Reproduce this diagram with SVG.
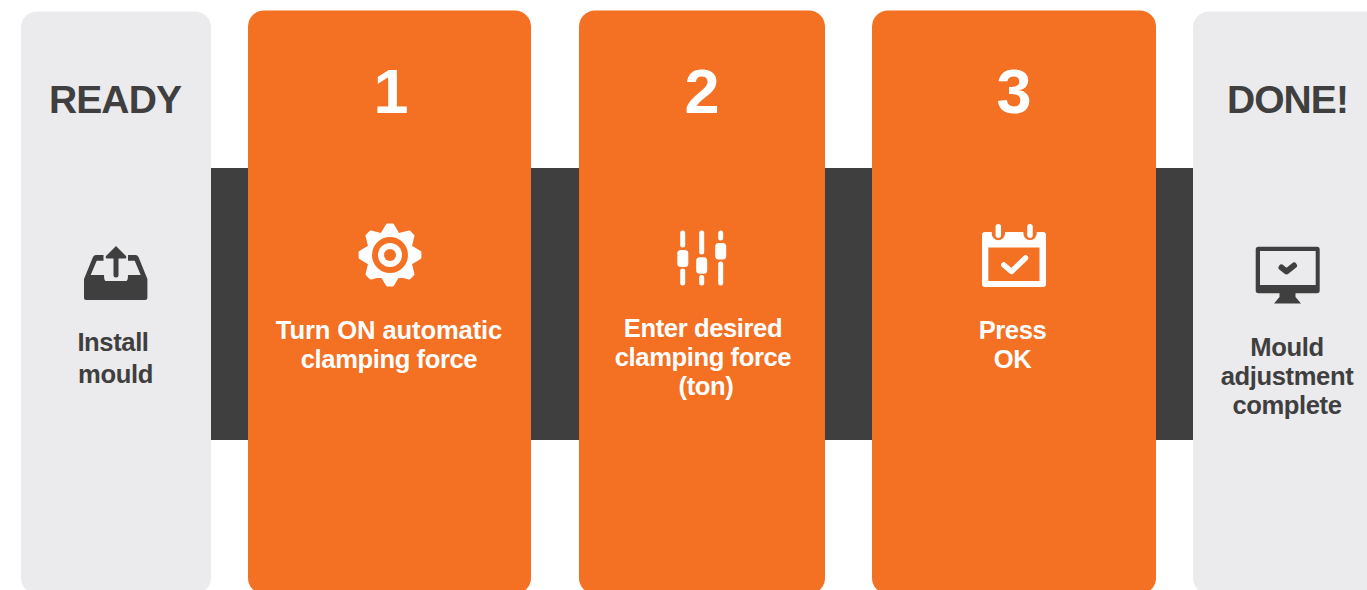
<svg xmlns="http://www.w3.org/2000/svg" width="1367" height="590" viewBox="0 0 1367 590">
<style>
.g{fill:#ebebed}.o{fill:#f47023}.d{fill:#3f3f3f}.w{fill:#fff}
text{font-family:"Liberation Sans",Arial,sans-serif;font-weight:700;text-anchor:middle}
.h{font-size:39px;fill:#3f3f3f;letter-spacing:-.9px}
.n{font-size:63px;fill:#fff}
.t{font-size:25.600px;letter-spacing:-.4px}
.tw{fill:#fff}.td{fill:#3f3f3f}
.sl{stroke:#fff;stroke-width:5;stroke-linecap:round;fill:none}
.ck{fill:none;stroke-linecap:round;stroke-linejoin:round}
</style>
<g id="connectors">
<rect class="d" x="205" y="168" width="50" height="272"/>
<rect class="d" x="525" y="168" width="60" height="272"/>
<rect class="d" x="819" y="168" width="60" height="272"/>
<rect class="d" x="1150" y="168" width="50" height="272"/>
</g>
<g id="ready">
<rect class="g" x="21" y="11.500" width="190" height="582.500" rx="16"/>
<text class="h" x="115" y="113">READY</text>
<path class="d" d="M84 279L93 257Q94 255 96 255L103.500 255 103.500 260.700 96.700 260.700 90.700 275 104 275Q104 281 106 281L126 281Q128 281 128 275L140.700 275 134.700 260.700 128 260.700 128 255 135.500 255Q137.500 255 138.500 257L147.400 279 147.400 298Q147.400 300 145 300L86 300Q84 300 84 298Z"/>
<path class="d" d="M116 246L126 256Q127 258.500 125 258.500L118.500 258.500 118.500 275A2.500 2.500 0 0 1 113.500 275L113.500 258.500 107 258.500Q105 258.500 106 256Z"/>
<text class="t td" x="113" y="351">Install</text>
<text class="t td" x="115.500" y="383">mould</text>
</g>
<g id="step1">
<rect class="o" x="248" y="10.500" width="283" height="583.500" rx="16"/>
<text class="n" x="391" y="113">1</text>
<g transform="translate(390 255)">
<polygon class="w" stroke="#fff" stroke-width="3" stroke-linejoin="round" points="29.900,-2.600 29.900,2.600 20.300,8.400 23,19.300 19.300,23 8.400,20.300 2.600,29.900 -2.600,29.900 -8.400,20.300 -19.300,23 -23,19.300 -20.300,8.400 -29.900,2.600 -29.900,-2.600 -20.300,-8.400 -23,-19.300 -19.300,-23 -8.400,-20.300 -2.600,-29.900 2.600,-29.900 8.400,-20.300 19.300,-23 23,-19.300 20.300,-8.400"/>
<circle class="o" r="18"/>
<circle class="w" r="12"/>
<circle class="o" r="6"/>
</g>
<text class="t tw" x="389" y="339" style="letter-spacing:-.12px">Turn ON automatic</text>
<text class="t tw" x="389" y="368">clamping force</text>
</g>
<g id="step2">
<rect class="o" x="579" y="10.500" width="246" height="583.500" rx="16"/>
<text class="n" x="702" y="113">2</text>
<path class="sl" d="M682.700 233V245M682.700 271V283M701.700 233V252M701.700 277.500V283M720.700 233V238M720.700 264V283"/>
<rect class="w" x="677.300" y="250" width="11" height="17" rx="3.500"/>
<rect class="w" x="696.200" y="257.300" width="11" height="16.500" rx="3.500"/>
<rect class="w" x="715.200" y="243" width="11" height="16.500" rx="3.500"/>
<text class="t tw" x="703" y="337">Enter desired</text>
<text class="t tw" x="703" y="366">clamping force</text>
<text class="t tw" x="706" y="395">(ton)</text>
</g>
<g id="step3">
<rect class="o" x="872" y="10.500" width="284" height="583.500" rx="16"/>
<text class="n" x="1014" y="113">3</text>
<path class="w" fill-rule="evenodd" d="M985 232L991.700 232 991.700 233.500A6.650 6.650 0 0 0 1005 233.500L1005 232 1023.400 232 1023.400 233.500A6.650 6.650 0 0 0 1036.700 233.500L1036.700 232 1043 232Q1046 232 1046 235L1046 284Q1046 287 1043 287L985 287Q982 287 982 284L982 235Q982 232 985 232ZM988.300 247.500L988.300 281 1039.500 281 1039.500 247.500Z"/>
<path class="sl" style="stroke-width:5.500px" d="M998.300 226.700V235.300M1030 226.700V235.300"/>
<path class="ck" stroke="#fff" stroke-width="5.500" d="M1003.800 265L1011.500 271.500 1025.500 258"/>
<text class="t tw" x="1012.500" y="339">Press</text>
<text class="t tw" x="1012.500" y="368">OK</text>
</g>
<g id="done">
<rect class="g" x="1193" y="11.500" width="190" height="582.500" rx="16"/>
<text class="h" x="1287.500" y="113">DONE!</text>
<path class="d" fill-rule="evenodd" d="M1258.500 246.700L1317 246.700Q1319.700 246.700 1319.700 249.500L1319.700 290.500Q1319.700 293.300 1317 293.300L1295.500 293.300 1295.500 297 1301 303.500 1274 303.500 1279.500 297 1279.500 293.300 1258.500 293.300Q1255.700 293.300 1255.700 290.500L1255.700 249.500Q1255.700 246.700 1258.500 246.700ZM1260 251L1260 285 1315.700 285 1315.700 251Z"/>
<path class="ck" stroke="#3f3f3f" stroke-width="6" d="M1281.500 267.500L1286.500 271.500 1294 265.500"/>
<text class="t td" x="1287" y="356">Mould</text>
<text class="t td" x="1287" y="385">adjustment</text>
<text class="t td" x="1287" y="414">complete</text>
</g>
</svg>
